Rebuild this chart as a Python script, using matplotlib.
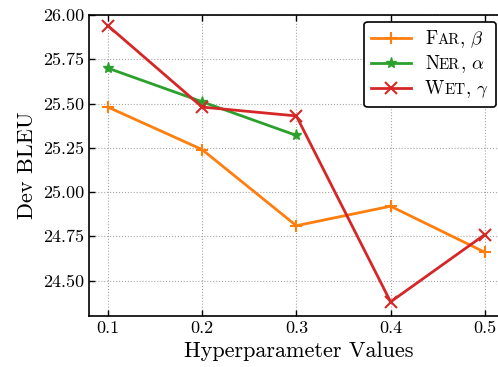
import matplotlib
matplotlib.use("Agg")
import matplotlib.pyplot as plt
from matplotlib.transforms import IdentityTransform

# values
x_far = [0.1, 0.2, 0.3, 0.4, 0.5]
far = [25.48, 25.24, 24.81, 24.92, 24.66]
x_ner = [0.1, 0.2, 0.3]
ner = [25.70, 25.51, 25.32]
x_wet = [0.1, 0.2, 0.3, 0.4, 0.5]
wet = [25.94, 25.48, 25.43, 24.38, 24.76]
xticks = [0.1, 0.2, 0.3, 0.4, 0.5]
yticks = [24.50, 24.75, 25.00, 25.25, 25.50, 25.75, 26.00]
# legend labels in small caps: (capital, small caps rest, suffix)
names = [('F', 'AR', r', $\beta$'), ('N', 'ER', r', $\alpha$'), ('W', 'ET', r', $\gamma$')]

plt.rcParams['font.family'] = 'serif'
plt.rcParams['font.serif'] = ['cmr10']
plt.rcParams['mathtext.fontset'] = 'cm'
plt.rcParams['axes.formatter.use_mathtext'] = True

fig = plt.figure(figsize=(4.98, 3.67), dpi=100)
ax = fig.add_axes([89 / 498, 51 / 367, 420 / 498, 301 / 367])

labels = [a + b + c for a, b, c in names]
ax.plot(x_far, far, color='tab:orange', marker='+', markersize=9, mew=1.5, lw=2, label=labels[0])
ax.plot(x_ner, ner, color='tab:green', marker='*', markersize=8, lw=2, label=labels[1])
ax.plot(x_wet, wet, color='tab:red', marker='x', markersize=9, mew=1.5, lw=2, label=labels[2])

ax.set_xlim(0.08, 0.08 + 420 / 942.5)
ax.set_ylim(24.30, 26.00)
ax.set_xticks(xticks)
ax.set_yticks(yticks)
ax.set_xticklabels([f'{v:.1f}' for v in xticks])
ax.set_yticklabels([f'{v:.2f}' for v in yticks])
ax.tick_params(direction='in', labelsize=13, width=1, length=4, top=True, right=True)
for s in ax.spines.values():
    s.set_linewidth(1.2)
ax.grid(True, linestyle=':', color='gray', alpha=0.7, lw=0.8)

ax.set_xlabel('Hyperparameter Values', fontsize=16)
ax.set_ylabel('Dev BLEU', fontsize=16)

fs = 13.5
leg = ax.legend(loc='upper right', bbox_to_anchor=(496 / 498, (367 - 22) / 367),
                bbox_transform=fig.transFigure, borderaxespad=0, fontsize=fs - 1,
                fancybox=True, framealpha=1, edgecolor='black', handlelength=2.3,
                labelspacing=0.35)
leg.get_frame().set_linewidth(1.2)

# overlay small-caps text on top of the (hidden) legend labels
fig.canvas.draw()
r = fig.canvas.get_renderer()
for t, parts in zip(leg.get_texts(), names):
    x, y = t.get_transform().transform(t.get_position())
    t.set_alpha(0)
    for s, size in zip(parts, [fs, fs * 0.8, fs]):
        p = fig.text(x, y, s, fontsize=size, ha='left', va='baseline',
                     transform=IdentityTransform())
        x = p.get_window_extent(r).x1

fig.savefig('out.png', dpi=100)
